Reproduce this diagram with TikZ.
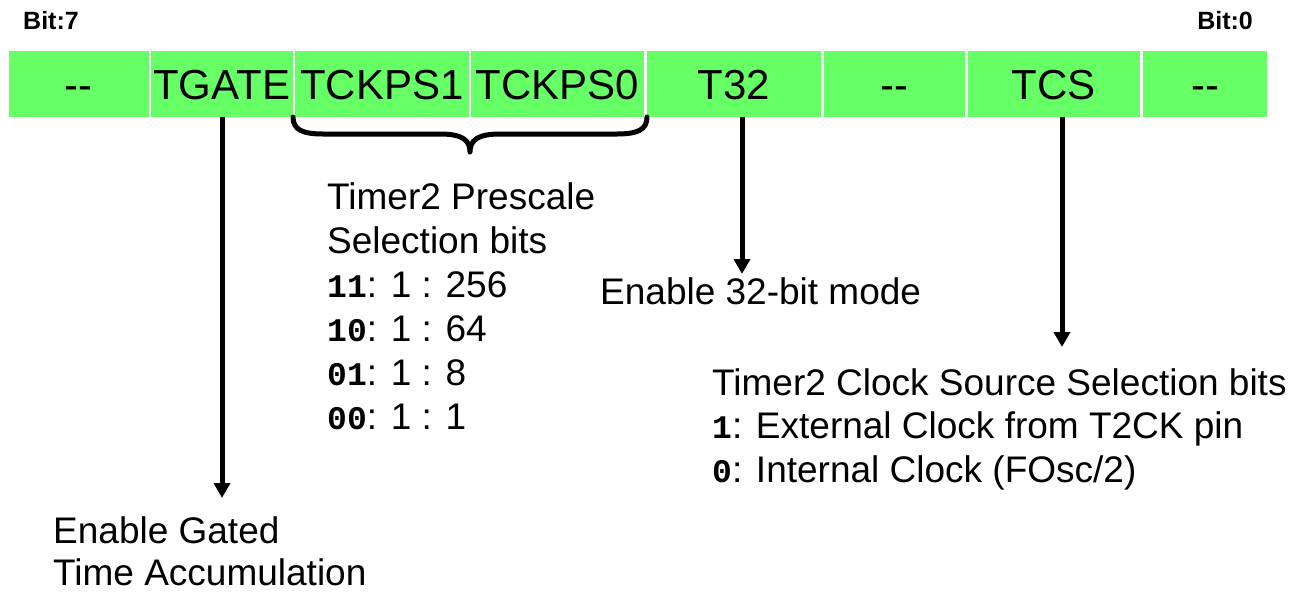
\documentclass[tikz,border=0pt]{standalone}
\usepackage{fontspec}
\setmainfont{Liberation Sans}
\newfontfamily\monofont{Liberation Mono}
\usetikzlibrary{arrows.meta}
\definecolor{regfill}{RGB}{102,255,102}
\newcommand\bitcode[1]{{\monofont\fontsize{33}{44}\selectfont #1}}
\newcommand\unused{{-}{-}}

\begin{document}
\begin{tikzpicture}[x=1pt,y=-1pt,
  cell/.style={fill=regfill, draw=none, inner sep=0pt, minimum height=66pt,
    text height=30pt, text depth=0pt, font=\fontsize{42}{50}\selectfont},
  bitlabel/.style={inner sep=0pt, font=\fontsize{25}{28}\selectfont\bfseries},
  desc/.style={anchor=base west, inner sep=0pt, font=\fontsize{37}{44}\selectfont},
  pointer/.style={line width=5pt, -{Triangle[width=16pt,length=15pt]}},
  brace/.style={line width=5pt, line cap=round, line join=round}]

\useasboundingbox (0,0) rectangle (1304,592);

% bit numbering
\node[bitlabel, anchor=base west] (b7) at (23,29) {Bit:7};
\node[bitlabel, anchor=base east] (b0) at (1253,29) {Bit:0};

% register cells
\node[cell, minimum width=139.5pt] (c1) at (78.75,84) {\unused};
\node[cell, minimum width=141.5pt] (c2) at (221.75,84) {TGATE};
\node[cell, minimum width=173.5pt] (c3) at (381.75,84) {TCKPS1};
\node[cell, minimum width=173pt]   (c4) at (557.5,84) {TCKPS0};
\node[cell, minimum width=174pt]   (c5) at (734,84) {T32};
\node[cell, minimum width=141pt]   (c6) at (894.5,84) {\unused};
\node[cell, minimum width=172.5pt] (c7) at (1053.75,84) {TCS};
\node[cell, minimum width=124pt]   (c8) at (1205,84) {\unused};

% brace under the prescale bits
\draw[brace] (293,117) .. controls (293,130) and (303,134) .. (323,134)
  -- (440,134) .. controls (462,134) and (470,140) .. (470,152)
  .. controls (470,140) and (478,134) .. (500,134)
  -- (617,134) .. controls (637,134) and (647,130) .. (647,117);

% arrow end points
\coordinate (tgtip) at (222,498);
\coordinate (t32tip) at (742,274);
\coordinate (tcstip) at (1062,347);

\draw[pointer] (c2.south -| tgtip) -- (tgtip);
\draw[pointer] (c5.south -| t32tip) -- (t32tip);
\draw[pointer] (c7.south -| tcstip) -- (tcstip);

% prescale description
\node[desc] (pre1) at (327,209) {Timer2 Prescale};
\node[desc] (pre2) at (327,253) {Selection bits};
\node[desc] (pre3) at (327,297) {\bitcode{\bfseries 11}: 1 : 256};
\node[desc] (pre4) at (327,341) {\bitcode{\bfseries 10}: 1 : 64};
\node[desc] (pre5) at (327,385) {\bitcode{\bfseries 01}: 1 : 8};
\node[desc] (pre6) at (327,429) {\bitcode{\bfseries 00}: 1 : 1};

% 32-bit mode
\node[desc] (m32) at (600,304) {Enable 32-bit mode};

% clock source description
\node[desc] (cs1) at (712,395) {Timer2 Clock Source Selection bits};
\node[desc] (cs2) at (712,438.5) {\bitcode{\bfseries 1}: External Clock from T2CK pin};
\node[desc] (cs3) at (712,482) {\bitcode{\bfseries 0}: Internal Clock (FOsc/2)};

% gate description
\node[desc] (eg1) at (53,543) {Enable Gated};
\node[desc] (eg2) at (53,585) {Time Accumulation};
\end{tikzpicture}
\end{document}
